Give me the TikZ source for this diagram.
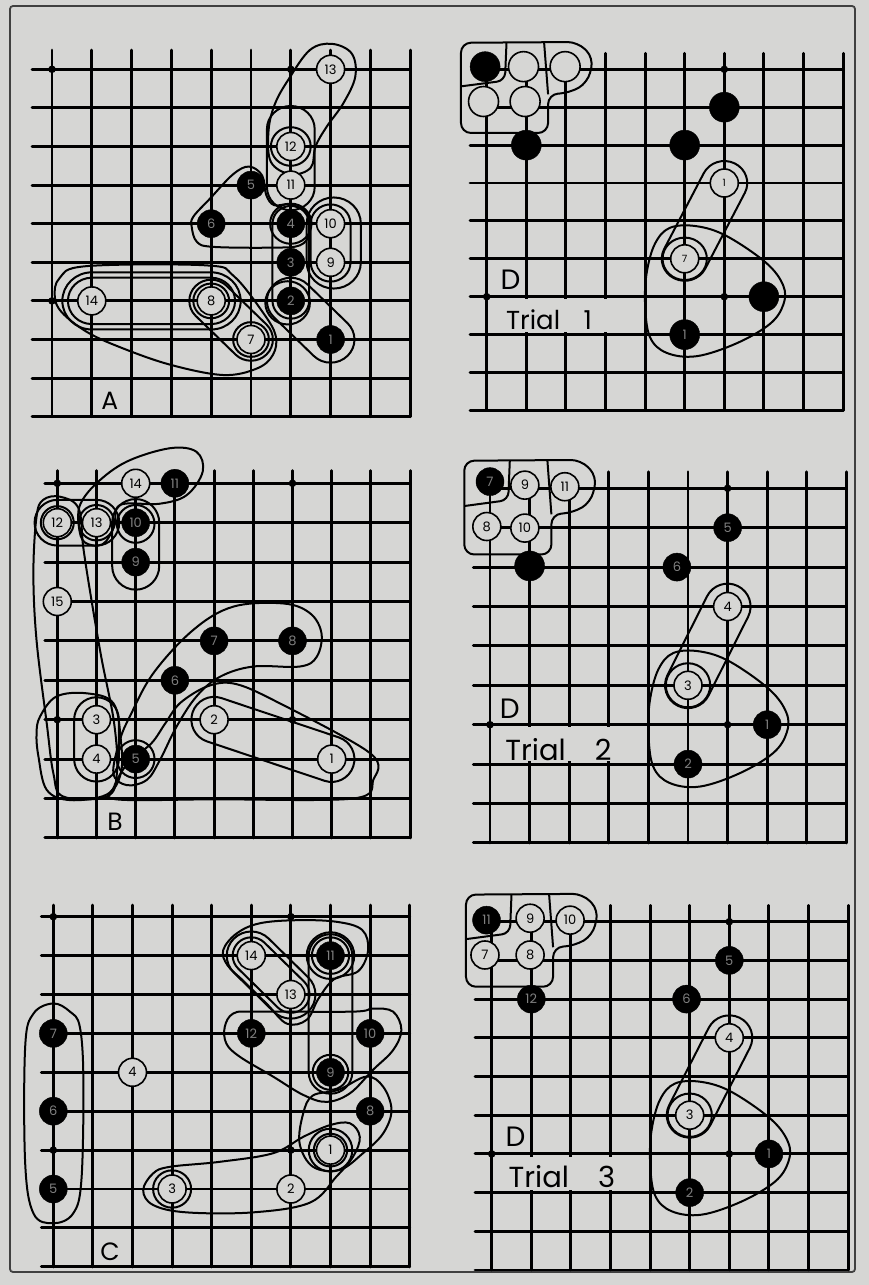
\documentclass[tikz,border=0pt]{standalone}
\usepackage{fontspec}
\newfontfamily\gofont{Poppins}
\usepackage{xcolor}
\usepackage{tikz}
\definecolor{paper}{RGB}{214,214,212}

%% one board corner: #1 first row with a left stub, #2 first column with a top stub, #3 stub length
\newcommand{\gogrid}[3]{%
  \foreach \i in {0,...,9} \draw[gridline] (\i,0) -- (\i,9);
  \foreach \j in {0,...,9} \draw[gridline] (0,\j) -- (9,\j);
  \foreach \j in {#1,...,9} \draw[gridline] (-#3,\j) -- (0,\j);
  \foreach \i in {#2,...,9} \draw[gridline] (\i,-#3) -- (\i,0);
  \foreach \p in {(0,0),(6,0),(0,6),(6,6)} \fill \p circle[radius=3.8pt];
}
%% loop round two points (x1,y1) (x2,y2), radius #5, in board units
\newcommand{\capsule}[5]{%
  \pgfmathsetmacro\capang{atan2(#4-#2,#3-#1)}%
  \draw[loopline] ({#1+#5*cos(\capang+90)},{#2+#5*sin(\capang+90)})
    arc[start angle=\capang+90, delta angle=180, radius=#5]
    -- ({#3+#5*cos(\capang-90)},{#4+#5*sin(\capang-90)})
    arc[start angle=\capang-90, delta angle=180, radius=#5] -- cycle;}
%% the loops that the three trials share
\newcommand{\trialloops}{%
  \draw[loopline, rounded corners=10pt] (-0.65,-0.7) -- (2.3,-0.72) -- (2.7,-0.3) -- (2.55,0.35)
    -- (2.1,0.62) -- (1.55,0.66) -- (1.55,1.68) -- (-0.65,1.68) -- cycle;
  \draw[loopline] (1.45,-0.7) -- (1.55,0.66);
  \draw[loopline, rounded corners=8pt] (0.5,-0.7) -- (0.46,0.3) -- (-0.65,0.45);
  \capsule{6}{3}{5}{5}{0.58}
  \draw[loopline] (5,5) circle[radius=0.56];
  \draw[loopline] plot[smooth cycle, tension=0.6] coordinates {(4.63,4.18) (5.3,4.14) (6.06,4.4)
    (7.06,5.11) (7.49,5.71) (7.49,6.21) (7.15,6.72) (6.31,7.23) (5.3,7.57) (4.54,7.48) (4.12,7.06)
    (4.0,6.21) (4.04,5.37) (4.25,4.6)};
}

\begin{document}
\begin{tikzpicture}[
  x=1pt, y=-1pt,
  gridline/.style={line width=2.9pt, line cap=round},
  loopline/.style={line width=2pt},
  wstone/.style={
    circle, draw, line width=1.6pt, fill=paper,
    minimum size=28pt, inner sep=0pt,
    font=\gofont\fontsize{13}{13}\selectfont},
  bstone/.style={
    circle, draw, fill=black, text=black!50,
    minimum size=28pt, inner sep=0pt,
    font=\gofont\fontsize{13}{13}\selectfont},
  bigstone/.style={minimum size=30pt},
  boardlabel/.style={font=\gofont\fontsize{25}{25}\selectfont},
  dlabel/.style={font=\gofont\fontsize{28}{28}\selectfont},
  triallabel/.style={font=\gofont\fontsize{29}{29}\selectfont, anchor=west}
]
\fill[paper] (0,0) rectangle (869,1285);
\useasboundingbox (0,0) rectangle (869,1285);
\draw[line width=1.8pt, black!75, rounded corners=3pt] (10,6) rectangle (855,1272);

%% Board A
\begin{scope}[shift={(52,69.3)}, x={(39.8pt,0pt)}, y={(0pt,-38.6pt)}]
  \gogrid{0}{0}{0.5}
  \draw[loopline] plot[smooth cycle, tension=0.6] coordinates {(7.03,-0.66) (7.53,-0.41) (7.62,0.19)
    (7.32,0.88) (6.9,1.49) (6.62,2.0) (6.5,2.55) (6.0,2.72) (5.5,2.4) (5.44,1.6) (5.6,0.9) (5.95,0.25) (6.48,-0.5)};
  \capsule{6}{1.55}{6}{3.05}{0.6}
  \draw[loopline] (6,2) circle[radius=0.5];
  \draw[loopline] plot[smooth cycle, tension=0.6] coordinates {(3.51,4.08) (3.64,4.47) (4.05,4.6)
    (5.56,4.62) (6.23,4.56) (6.46,4.25) (6.42,3.73) (5.98,3.5) (5.58,3.52) (5.38,3.25) (5.28,2.75)
    (4.95,2.52) (4.55,2.72) (3.97,3.35) (3.55,3.82)};
  \draw[loopline] (6,4) circle[radius=0.52];
  \capsule{6}{4}{6}{6}{0.46}
  \draw[loopline] (5.92,6.05) circle[radius=0.56];
  \capsule{6}{6}{7}{7}{0.6}
  \capsule{7}{4}{7}{5}{0.5}
  \capsule{7.08}{4}{7.08}{5}{0.68}
  \capsule{1}{6}{4}{6}{0.6}
  \capsule{1}{6}{4}{6}{0.74}
  \draw[loopline] plot[smooth cycle, tension=0.6] coordinates {(0.07,5.89) (0.19,5.41) (0.86,5.1)
    (3.88,5.08) (4.56,5.35) (5.3,6.3) (5.62,6.9) (5.55,7.4) (5.15,7.75) (4.3,7.92) (2.96,7.65)
    (1.71,7.2) (0.87,6.8) (0.25,6.3)};
  \capsule{4}{6}{5}{7}{0.55}
  \draw[loopline] (4,6) circle[radius=0.45];
  \draw[loopline] (5,7) circle[radius=0.45];
  %% stones
  \node[wstone] (a13) at (7,0) {13};
  \node[wstone] (a12) at (6,2) {12};
  \node[wstone] (a11) at (6,3) {11};
  \node[wstone] (a10) at (7,4) {10};
  \node[wstone] (a9)  at (7,5) {9};
  \node[wstone] (a14) at (1,6) {14};
  \node[wstone] (a8)  at (4,6) {8};
  \node[wstone] (a7)  at (5,7) {7};
  \node[bstone] (a5)  at (5,3) {5};
  \node[bstone] (a6)  at (4,4) {6};
  \node[bstone] (a4)  at (6,4) {4};
  \node[bstone] (a3)  at (6,5) {3};
  \node[bstone] (a2)  at (6,6) {2};
  \node[bstone] (a1)  at (7,7) {1};
  \node[boardlabel] (labA) at (1.45,8.58) {A};
\end{scope}

%% Board B
\begin{scope}[shift={(57.3,483.3)}, x={(39.2pt,0pt)}, y={(0pt,-39.4pt)}]
  \gogrid{0}{0}{0.32}
  \draw[loopline] plot[smooth cycle, tension=0.6] coordinates {(0.55,1.1) (0.58,0.55) (1.0,0.0)
    (1.77,-0.55) (2.87,-0.89) (3.55,-0.8) (3.71,-0.3) (3.3,0.3) (2.6,0.52) (1.6,0.55) (1.45,1.1)
    (1.15,1.55) (0.7,1.5)};
  \capsule{0}{1}{1}{1}{0.58}
  \draw[loopline] (0,1) circle[radius=0.42];
  \draw[loopline] (1,1) circle[radius=0.45];
  \capsule{2}{1}{2}{2.1}{0.6}
  \draw[loopline] (2,1.03) circle[radius=0.48];
  \draw[loopline] plot[smooth cycle, tension=0.6] coordinates {(-0.36,0.42) (0.07,0.34) (0.54,0.63)
    (0.66,1.61) (0.83,2.71) (1.12,4.4) (1.45,6.09) (1.52,7.36) (1.26,7.95) (0.15,7.95) (-0.1,7.36)
    (-0.27,6.09) (-0.53,3.98) (-0.61,2.28) (-0.53,0.85)};
  \capsule{1}{6}{1}{7}{0.57}
  \draw[loopline] plot[smooth cycle, tension=0.6] coordinates {(-0.44,5.92) (-0.02,5.41) (0.75,5.33)
    (1.43,5.58) (1.62,6.51) (1.62,7.36) (1.26,7.9) (0.32,8.04) (-0.27,7.78) (-0.48,6.94) (-0.53,6.35)};
  \draw[loopline] plot[smooth cycle, tension=0.6] coordinates {(1.43,7.36) (1.6,6.51) (1.85,5.92)
    (2.45,4.82) (3.47,3.72) (4.49,3.13) (5.77,3.05) (6.45,3.3) (6.74,3.81) (6.62,4.4) (6.19,4.65)
    (5.0,4.65) (4.15,4.91) (3.55,5.41) (3.04,6.18) (2.62,7.02) (2.28,7.53) (1.77,7.66)};
  \draw[loopline] (2,7) circle[radius=0.48];
  \capsule{4}{6}{7}{7}{0.58}
  \draw[loopline] plot[smooth cycle, tension=0.55] coordinates {(3.13,5.58) (3.81,5.16) (4.49,5.08)
    (5.51,5.5) (7.98,6.85) (8.06,7.53) (7.55,8.0) (4.0,8.02) (1.5,8.02) (1.45,7.7) (1.8,7.1)
    (2.4,6.6) (2.75,6.1)};
  %% stones
  \node[wstone] (b14) at (2,0) {14};
  \node[wstone] (b12) at (0,1) {12};
  \node[wstone] (b13) at (1,1) {13};
  \node[wstone] (b15) at (0,3) {15};
  \node[wstone] (b2)  at (4,6) {2};
  \node[wstone] (b3)  at (1,6) {3};
  \node[wstone] (b4)  at (1,7) {4};
  \node[wstone] (b1)  at (7,7) {1};
  \node[bstone] (b11) at (3,0) {11};
  \node[bstone] (b10) at (2,1) {10};
  \node[bstone] (b9)  at (2,2) {9};
  \node[bstone] (b7)  at (4,4) {7};
  \node[bstone] (b8)  at (6,4) {8};
  \node[bstone] (b6)  at (3,5) {6};
  \node[bstone] (b5)  at (2,7) {5};
  \node[boardlabel] (labB) at (1.47,8.59) {B};
\end{scope}

%% Board C
\begin{scope}[shift={(53.3,916.7)}, x={(39.6pt,0pt)}, y={(0pt,-38.9pt)}]
  \gogrid{0}{0}{0.3}
  \draw[loopline] plot[smooth cycle, tension=0.6] coordinates {(0,2.23) (0.42,2.44) (0.67,2.83)
    (0.76,4.2) (0.71,6.77) (0.5,7.63) (0,7.88) (-0.5,7.63) (-0.71,6.34) (-0.71,3.34) (-0.5,2.49)};
  \capsule{5}{1}{6}{2}{0.47}
  \capsule{5}{1}{6}{2}{0.62}
  \draw[loopline] plot[smooth cycle, tension=0.6] coordinates {(4.29,0.86) (4.63,0.43) (5.21,0.17)
    (6.14,0.09) (7.15,0.13) (7.8,0.34) (7.95,0.86) (7.7,1.4) (7.1,1.6) (6.7,2.1) (6.4,2.65)
    (5.9,2.75) (5.4,2.25) (4.8,1.65) (4.4,1.25)};
  \draw[loopline] (7,1) circle[radius=0.47];
  \draw[loopline] (7,1) circle[radius=0.6];
  \capsule{7}{1}{7}{4}{0.55}
  \draw[loopline] (7,4) circle[radius=0.45];
  \draw[loopline] plot[smooth cycle, tension=0.6] coordinates {(4.33,2.83) (4.54,2.49) (5.05,2.44)
    (7.57,2.44) (8.07,2.36) (8.58,2.44) (8.79,2.91) (8.58,3.43) (8.07,3.94) (7.49,4.54) (6.9,4.76)
    (6.31,4.58) (5.55,4.11) (4.71,3.6) (4.37,3.26)};
  \draw[loopline] plot[smooth cycle, tension=0.6] coordinates {(7.91,4.11) (8.33,4.37) (8.54,4.97)
    (8.33,5.57) (7.82,6.08) (7.23,6.51) (6.56,6.43) (6.22,5.83) (6.31,5.06) (6.55,4.6) (7.2,4.45)};
  \draw[loopline] (7,6) circle[radius=0.42];
  \draw[loopline] (7,6) circle[radius=0.55];
  \draw[loopline] plot[smooth cycle, tension=0.6] coordinates {(2.27,7.03) (2.52,6.6) (2.94,6.43)
    (4.21,6.3) (5.55,6.08) (6.31,5.66) (6.98,5.36) (7.49,5.31) (7.74,5.66) (7.57,6.17) (7.15,6.68)
    (6.48,7.35) (5.05,7.6) (3.36,7.6) (2.52,7.41)};
  \draw[loopline] (3,7) circle[radius=0.48];
  %% stones
  \node[wstone] (c14) at (5,1) {14};
  \node[wstone] (c13) at (6,2) {13};
  \node[wstone] (c4)  at (2,4) {4};
  \node[wstone] (c1)  at (7,6) {1};
  \node[wstone] (c3)  at (3,7) {3};
  \node[wstone] (c2)  at (6,7) {2};
  \node[bstone] (c11) at (7,1) {11};
  \node[bstone] (c7)  at (0,3) {7};
  \node[bstone] (c12) at (5,3) {12};
  \node[bstone] (c10) at (8,3) {10};
  \node[bstone] (c9)  at (7,4) {9};
  \node[bstone] (c6)  at (0,5) {6};
  \node[bstone] (c8)  at (8,5) {8};
  \node[bstone] (c5)  at (0,7) {5};
  \node[boardlabel] (labC) at (1.43,8.61) {C};
\end{scope}

%% Board D, trial 1
\begin{scope}[shift={(486.7,69.3)}, x={(39.6pt,0pt)}, y={(0pt,-37.9pt)}]
  \gogrid{2}{3}{0.42}
  \fill[paper] (0.1,6.07) rectangle (3.9,6.93);
  \trialloops
  \node[bstone, bigstone] (t1x1) at (-0.04,-0.07) {};
  \node[wstone, bigstone] (t1x2) at (0.93,-0.07) {};
  \node[wstone, bigstone] (t1x3) at (1.98,-0.07) {};
  \node[wstone, bigstone] (t1x4) at (-0.08,0.85) {};
  \node[wstone, bigstone] (t1x5) at (0.97,0.85) {};
  \node[bstone, bigstone] (t1x6) at (1,2) {};
  \node[bstone, bigstone] (t1x7) at (6,1) {};
  \node[bstone, bigstone] (t1x8) at (5,2) {};
  \node[bstone, bigstone] (t1x9) at (7,6) {};
  \node[wstone, font=\gofont\fontsize{10}{10}\selectfont] (t1w1) at (6,3) {1};
  \node[wstone, font=\gofont\fontsize{10}{10}\selectfont] (t1w7) at (5,5) {7};
  \node[bstone, bigstone] (t1n1) at (5,7) {1};
  \node[dlabel] (labD1) at (0.6,5.55) {D};
  \node[triallabel, font=\gofont\fontsize{26}{26}\selectfont] (trial1) at (0.4,6.6) {Trial\hspace{0.9em}1};
\end{scope}

%% Board D, trial 2
\begin{scope}[shift={(490,488.3)}, x={(39.6pt,0pt)}, y={(0pt,-39.4pt)}]
  \gogrid{2}{3}{0.42}
  \fill[paper] (0.1,6.07) rectangle (3.9,6.93);
  \trialloops
  \node[bstone] (t2n7)  at (0,-0.17) {7};
  \node[wstone] (t2n9)  at (0.88,-0.08) {9};
  \node[wstone] (t2n11) at (1.89,-0.04) {11};
  \node[wstone] (t2n8)  at (-0.08,0.97) {8};
  \node[wstone] (t2n10) at (0.88,1.01) {10};
  \node[bstone, bigstone] (t2x1) at (1,1.97) {};
  \node[bstone] (t2n5)  at (6,1) {5};
  \node[bstone] (t2n6)  at (4.72,2) {6};
  \node[wstone] (t2n4)  at (6,3) {4};
  \node[wstone] (t2n3)  at (5,5) {3};
  \node[bstone] (t2n1)  at (7,6) {1};
  \node[bstone] (t2n2)  at (5,7) {2};
  \node[dlabel] (labD2) at (0.5,5.6) {D};
  \node[triallabel] (trial2) at (0.3,6.64) {Trial\hspace{1em}2};
\end{scope}

%% Board D, trial 3
\begin{scope}[shift={(491.7,921.7)}, x={(39.6pt,0pt)}, y={(0pt,-38.7pt)}]
  \gogrid{2}{3}{0.42}
  \fill[paper] (0.1,6.07) rectangle (3.9,6.93);
  \trialloops
  \node[bstone] (t3n11) at (-0.13,-0.04) {11};
  \node[wstone] (t3n9)  at (0.97,-0.09) {9};
  \node[wstone] (t3n10) at (1.98,-0.04) {10};
  \node[wstone] (t3n7)  at (-0.17,0.86) {7};
  \node[wstone] (t3n8)  at (0.97,0.86) {8};
  \node[bstone] (t3n12) at (1,2) {12};
  \node[bstone] (t3n5)  at (6,1) {5};
  \node[bstone] (t3n6)  at (4.92,2) {6};
  \node[wstone] (t3n4)  at (6,3) {4};
  \node[wstone] (t3n3)  at (5,5) {3};
  \node[bstone] (t3n1)  at (7,6) {1};
  \node[bstone] (t3n2)  at (5,7) {2};
  \node[dlabel] (labD3) at (0.6,5.56) {D};
  \node[triallabel] (trial3) at (0.34,6.59) {Trial\hspace{1em}3};
\end{scope}

\end{tikzpicture}
\end{document}
